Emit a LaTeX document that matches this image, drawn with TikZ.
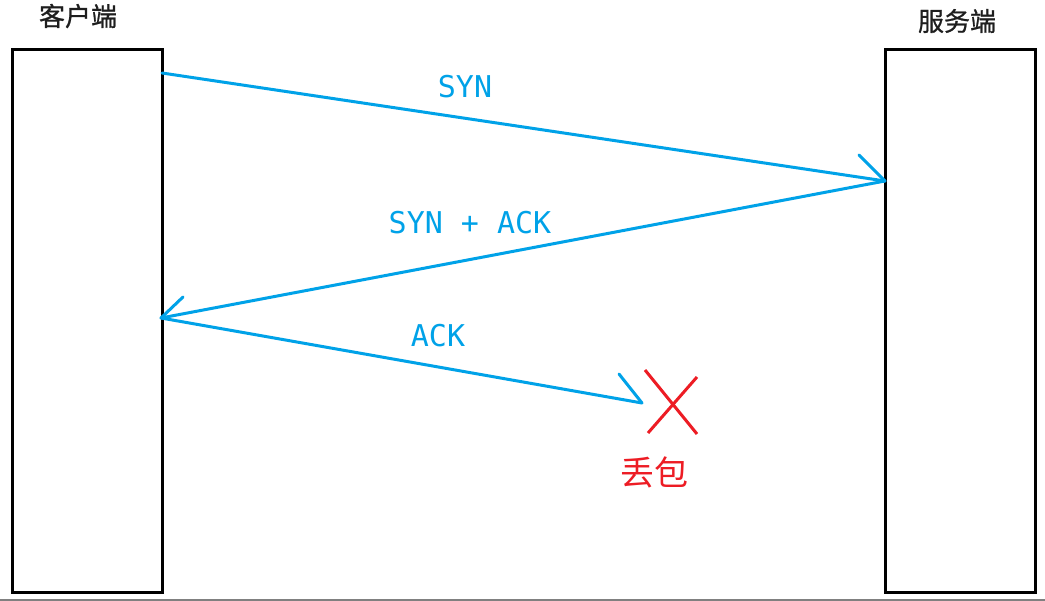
\documentclass[tikz,border=0pt]{standalone}
\usepackage{fontspec}
\newfontfamily\cjk{Noto Sans CJK SC}
\newfontfamily\cjkb[FakeBold=0.8]{Noto Sans CJK SC}
\newfontfamily\mono{DejaVu Sans Mono}
\definecolor{pblue}{RGB}{0,162,232}
\definecolor{pred}{RGB}{237,28,36}
\definecolor{tgray}{RGB}{30,30,30}
\begin{document}
\begin{tikzpicture}[x=1pt,y=-1pt,
  box/.style={draw=black,line width=3pt,minimum width=150pt,minimum height=542pt,inner sep=0pt},
  msg/.style={draw=pblue,line width=3pt,line cap=round,line join=round},
  msglabel/.style={text=pblue,font=\mono\fontsize{30}{32}\selectfont,inner sep=0pt},
  title/.style={text=tgray,font=\cjkb\fontsize{26}{28}\selectfont,inner sep=0pt},
  cross/.style={draw=pred,line width=3pt}]
\useasboundingbox (0,0) rectangle (1045,601);
\fill[white] (0,0) rectangle (1045,601);
\draw[gray,line width=2pt] (0,600) -- (1045,600);
\node[box] (cl) at (87,321) {};
\node[box] (sv) at (960.5,321) {};
\node[title] (tcl) at (78,16) {客户端};
\node[title] (tsv) at (957,21) {服务端};
\coordinate (s0) at (162,73);
\coordinate (s1) at (885,181);
\coordinate (s1b) at (859,155);
\coordinate (r1) at (161,318);
\coordinate (r1b) at (183,297);
\coordinate (k1) at (642,403);
\coordinate (k1b) at (619,374);
\draw[msg] (s0) -- (s1);
\draw[msg] (s1b) -- (s1);
\draw[msg] (s1) -- (r1);
\draw[msg] (r1b) -- (r1);
\draw[msg] (r1) -- (k1);
\draw[msg] (k1b) -- (k1);
\node[msglabel] (lsyn) at (465,87) {SYN};
\node[msglabel] (lsa) at (470,223) {SYN + ACK};
\node[msglabel] (lack) at (438,336) {ACK};
\coordinate (x1) at (645,370);
\coordinate (x2) at (697,434);
\coordinate (x3) at (697,377);
\coordinate (x4) at (648,433);
\draw[cross] (x1) -- (x2);
\draw[cross] (x3) -- (x4);
\node[text=pred,font=\cjk\fontsize{34}{36}\selectfont,inner sep=0pt] (lost) at (654,472) {丢包};
\end{tikzpicture}
\end{document}
